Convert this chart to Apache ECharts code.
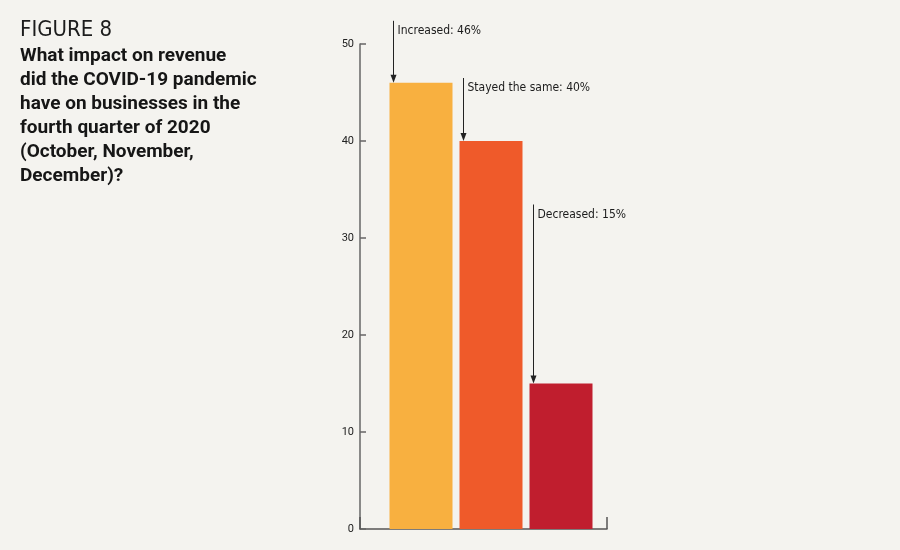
<!DOCTYPE html>
<html>
<head>
<meta charset="utf-8">
<script src="https://cdn.jsdelivr.net/npm/echarts@6/dist/echarts.min.js"></script>
<style>
  html, body { margin: 0; padding: 0; background: #f4f3ef; }
  #main { width: 900px; height: 550px; }
</style>
</head>
<body>
<div id="main"></div>
<script>
// data
const categories = ['Increased', 'Stayed the same', 'Decreased'];
const percentValues = [46, 40, 15];
const annotationLabels = ['Increased: 46%', 'Stayed the same: 40%', 'Decreased: 15%'];
const yTicks = [0, 10, 20, 30, 40, 50];

const barColors = ['#f8b040', '#ef5a2a', '#c01e2e'];
// length of each pointer arrow in px (layout only)
const arrowLen = [62, 63, 179];

const chart = echarts.init(document.getElementById('main'));
const condensed = '"Liberation Sans Narrow", "DejaVu Sans Condensed", "Roboto", sans-serif';
const BAR_W = 63;

const option = {
  backgroundColor: '#f4f3ef',
  animation: false,
  title: [
    {
      text: 'FIGURE 8',
      left: 15, top: 14,
      textStyle: { fontFamily: condensed, fontWeight: 'normal', fontSize: 22, color: '#1c1c1c' }
    },
    {
      text: 'What impact on revenue\ndid the COVID-19 pandemic\nhave on businesses in the\nfourth quarter of 2020\n(October, November,\nDecember)?',
      left: 15, top: 39,
      textStyle: { fontFamily: 'Roboto, sans-serif', fontWeight: 'bold', fontSize: 19, lineHeight: 24, color: '#161616' }
    }
  ],
  grid: [
    { left: 386, width: 210, top: 44, bottom: 21 },
    { left: 360, width: 247, top: 44, bottom: 21 }
  ],
  xAxis: [
    { gridIndex: 0, type: 'category', data: categories, show: false },
    {
      gridIndex: 1, type: 'value', min: 0, max: 1, interval: 1,
      axisLine: { show: true, lineStyle: { color: '#555', width: 1.5 } },
      axisTick: { show: true, inside: true, length: 12, lineStyle: { color: '#555', width: 1.5 } },
      axisLabel: { show: false },
      splitLine: { show: false }
    }
  ],
  yAxis: [
    { gridIndex: 0, type: 'value', min: yTicks[0], max: yTicks[yTicks.length - 1], show: false },
    {
      gridIndex: 1, type: 'value', min: yTicks[0], max: yTicks[yTicks.length - 1], interval: 10,
      axisLine: { show: true, lineStyle: { color: '#666', width: 1.5 } },
      axisTick: { show: true, inside: true, length: 6, lineStyle: { color: '#666', width: 1.5 } },
      axisLabel: { margin: 6, color: '#222', fontSize: 11, fontFamily: 'Roboto, sans-serif' },
      splitLine: { show: false }
    }
  ],
  series: [
    {
      type: 'bar',
      xAxisIndex: 0, yAxisIndex: 0,
      barWidth: BAR_W,
      data: percentValues.map((v, i) => ({ value: v, itemStyle: { color: barColors[i] } }))
    },
    {
      // pointer arrows + labels above each bar
      type: 'custom',
      xAxisIndex: 0, yAxisIndex: 0,
      clip: false,
      z: 5,
      data: percentValues.map((v, i) => [i, v]),
      renderItem(params, api) {
        const i = params.dataIndex;
        const top = api.coord([api.value(0), api.value(1)]);
        const x = Math.round(top[0] - BAR_W / 2 + 3) + 0.5;
        const yEnd = top[1];
        const yStart = yEnd - arrowLen[i];
        return {
          type: 'group',
          children: [
            {
              type: 'line',
              shape: { x1: x, y1: yStart, x2: x, y2: yEnd - 6 },
              style: { stroke: '#222', lineWidth: 1 }
            },
            {
              type: 'polygon',
              shape: { points: [[x - 3, yEnd - 8], [x + 3, yEnd - 8], [x, yEnd]] },
              style: { fill: '#222' }
            },
            {
              type: 'text',
              x: x + 4, y: yStart + 10,
              style: {
                text: annotationLabels[i],
                fill: '#1c1c1c',
                font: '12px ' + condensed,
                verticalAlign: 'middle'
              }
            }
          ]
        };
      }
    }
  ]
};

chart.setOption(option);
</script>
</body>
</html>
